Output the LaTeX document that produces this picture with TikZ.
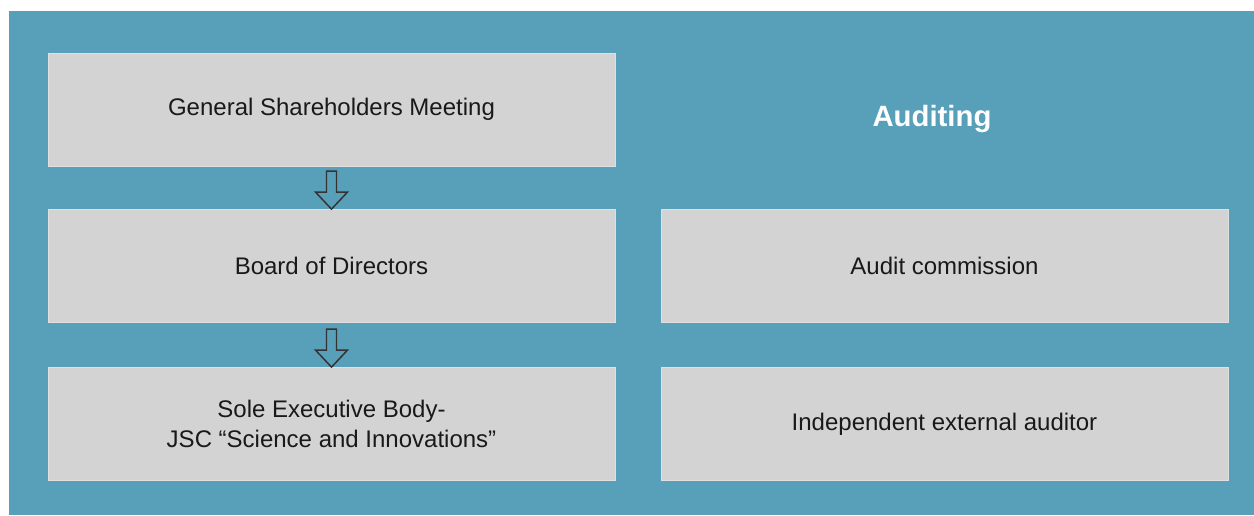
\documentclass[tikz,border=0pt]{standalone}
\usepackage{fontspec}
\setmainfont{Liberation Sans}
\usetikzlibrary{calc}
\definecolor{panelblue}{HTML}{589FB9}
\definecolor{boxgray}{HTML}{D3D3D3}
\begin{document}
\begin{tikzpicture}[x=0.75pt, y=-0.75pt,
        govbox/.style={fill=boxgray, draw=boxgray!70!white, line width=0.6pt,
            minimum width=425.25pt, minimum height=84.75pt, inner sep=0pt,
            align=center, text=black!90, font=\fontsize{18}{22}\selectfont},
        flowarrow/.style={draw=black!80, line width=1.1pt, line join=miter}
    ]
    \useasboundingbox (0,0) rectangle (1254,515);
    \fill[panelblue] (9,11) rectangle (1254,515);
    % governance column
    \node[govbox] (gsm) at (331.5,109.5) {General Shareholders Meeting};
    \node[govbox] (bod) at (331.5,266) {Board of Directors};
    \node[govbox] (seb) at (331.5,424) {Sole Executive Body-\\JSC \textquotedblleft Science and Innovations\textquotedblright};
    % auditing column
    \node[text=white, font=\bfseries\fontsize{22}{26}\selectfont] (audit) at (932,119) {Auditing};
    \node[govbox] (comm) at (944.5,266) {Audit commission};
    \node[govbox] (ext) at (944.5,424) {Independent external auditor};
    % hollow arrows
    \draw[flowarrow] (bod.north) -- +(16,-17) -- +(5,-17) -- +(5,-38) -- +(-5,-38) -- +(-5,-17) -- +(-16,-17) -- cycle;
    \draw[flowarrow] (seb.north) -- +(16,-17) -- +(5,-17) -- +(5,-38) -- +(-5,-38) -- +(-5,-17) -- +(-16,-17) -- cycle;
\end{tikzpicture}
\end{document}
